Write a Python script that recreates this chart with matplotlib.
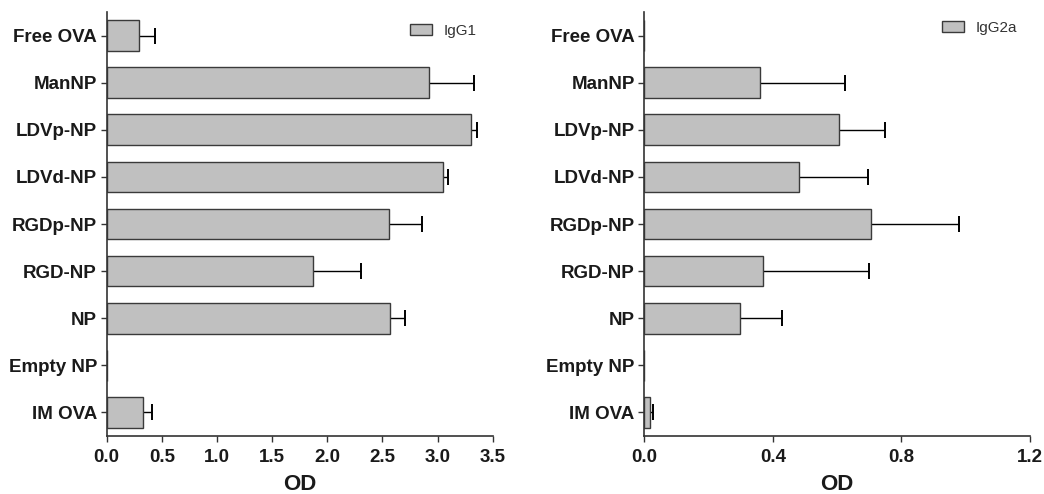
import numpy as np
import matplotlib.pyplot as plt

# groups, top to bottom
groups = ['Free OVA', 'ManNP', 'LDVp-NP', 'LDVd-NP', 'RGDp-NP', 'RGD-NP', 'NP', 'Empty NP', 'IM OVA']

# IgG1 OD and error (right side only)
igg1 = [0.29, 2.92, 3.30, 3.05, 2.56, 1.87, 2.57, 0.0, 0.33]
igg1_err = [0.15, 0.41, 0.055, 0.045, 0.30, 0.44, 0.135, 0.0, 0.085]

# IgG2a OD and error
igg2a = [0.0, 0.36, 0.605, 0.48, 0.705, 0.37, 0.297, 0.0, 0.019]
igg2a_err = [0.0, 0.265, 0.145, 0.215, 0.273, 0.33, 0.13, 0.0, 0.009]

plt.rcParams['font.family'] = ['Liberation Sans', 'DejaVu Sans']

fig = plt.figure(figsize=(10.44, 4.94), dpi=100)
ax1 = fig.add_axes([0.1022, 0.1174, 0.3697, 0.8583])
ax2 = fig.add_axes([0.6172, 0.1174, 0.3694, 0.8583])

y = np.arange(len(groups))

panels = [
    (ax1, igg1, igg1_err, 'IgG1', 3.5, np.arange(0, 3.51, 0.5), (0.786, 0.972)),
    (ax2, igg2a, igg2a_err, 'IgG2a', 1.2, np.arange(0, 1.21, 0.4), (0.771, 0.979)),
]

for ax, vals, err, name, xmax, ticks, anchor in panels:
    ax.barh(y, vals, height=0.65, color='#c0c0c0', edgecolor='#3a3a3a',
            linewidth=1.0, label=name, zorder=2)
    ax.errorbar(vals, y, xerr=[np.zeros(len(err)), err], fmt='none',
                ecolor='black', elinewidth=1.0, capsize=6, capthick=1.4, zorder=1)
    ax.set_ylim(8.5, -0.5)
    ax.set_xlim(0, xmax)
    ax.set_xticks(ticks)
    ax.set_xticklabels(['%.1f' % t for t in ticks])
    ax.set_yticks(y)
    ax.set_yticklabels(groups)
    for lab in ax.get_xticklabels() + ax.get_yticklabels():
        lab.set_fontweight('bold')
        lab.set_fontsize(13.5)
    ax.tick_params(axis='both', direction='out', length=4, width=1, colors='#333333',
                   labelcolor='#1a1a1a')
    ax.tick_params(axis='x', pad=5)
    ax.tick_params(axis='y', pad=3)
    ax.spines['top'].set_visible(False)
    ax.spines['right'].set_visible(False)
    for s in ('left', 'bottom'):
        ax.spines[s].set_color('#333333')
        ax.spines[s].set_linewidth(1.2)
    ax.set_xlabel('OD', fontsize=16, fontweight='bold', color='#1a1a1a', labelpad=6)
    leg = ax.legend(loc='upper left', bbox_to_anchor=anchor, frameon=False,
                    fontsize=11, borderpad=0, borderaxespad=0,
                    handlelength=1.45, handleheight=0.7, handletextpad=0.75)
    for t in leg.get_texts():
        t.set_color('#333333')

fig.savefig('out.png', dpi=100)
